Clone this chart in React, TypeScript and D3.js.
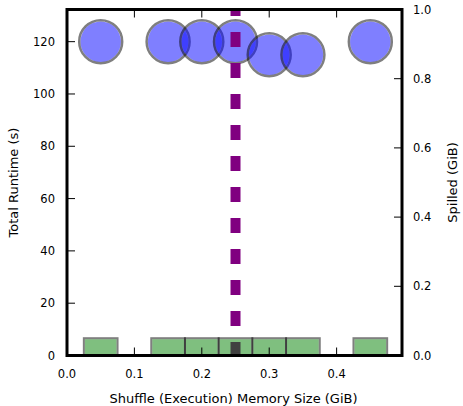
import React from "react";
import * as d3 from "d3";

const memSizes = [0.05, 0.15, 0.2, 0.25, 0.3, 0.35, 0.45];
const runtimes = [120, 120, 120, 120, 115, 115, 120];
const spilled = [0.05, 0.05, 0.05, 0.05, 0.05, 0.05, 0.05];
const barWidth = 0.05;
const markerX = 0.25;
const xTicks = [0.0, 0.1, 0.2, 0.3, 0.4];
const yLeftTicks = [0, 20, 40, 60, 80, 100, 120];
const yRightTicks = [0.0, 0.2, 0.4, 0.6, 0.8, 1.0];

const W = 463;
const H = 406;
const L = 67;
const R = 402;
const T = 9.5;
const B = 355.5;
const FONT = "DejaVu Sans";

export default function App() {
  const x = d3.scaleLinear().domain([0, 0.497]).range([L, R]);
  const yL = d3.scaleLinear().domain([0, 132.3]).range([B, T]);
  const yR = d3.scaleLinear().domain([0, 1]).range([B, T]);
  const tickLen = 8;
  const fs = 11.5;
  const lfs = 13;
  const r = 21.5;
  const sw = 2.5;

  return (
    <svg width={W} height={H} style={{ position: "absolute", left: 0, top: 0 }}>
      <defs>
        <clipPath id="plot">
          <rect x={L} y={T} width={R - L} height={B - T} />
        </clipPath>
      </defs>
      <rect width={W} height={H} fill="white" />
      <g clipPath="url(#plot)">
        {memSizes.map((m, i) => (
          <g key={"c" + i}>
            <circle cx={x(m)} cy={yL(runtimes[i])} r={r - sw / 2} fill="rgba(0,0,255,0.5)" />
            <circle
              cx={x(m)}
              cy={yL(runtimes[i])}
              r={r}
              fill="none"
              stroke="rgba(0,0,0,0.5)"
              strokeWidth={sw}
            />
          </g>
        ))}
        <line
          x1={x(markerX)}
          x2={x(markerX)}
          y1={yL(0)}
          y2={yL(132.3)}
          stroke="#800080"
          strokeWidth={10}
          strokeDasharray="15 16"
          strokeDashoffset={1.5}
        />
        {memSizes.map((m, i) => {
          const x0 = x(m - barWidth / 2);
          const x1 = x(m + barWidth / 2);
          const y0 = yR(spilled[i]);
          const y1 = yR(0);
          return (
            <g key={"b" + i}>
              <rect
                x={x0 + 1}
                y={y0 + 1}
                width={x1 - x0 - 2}
                height={y1 - y0 - 1}
                fill="rgba(0,128,0,0.5)"
              />
              <rect
                x={x0}
                y={y0}
                width={x1 - x0}
                height={y1 - y0 + 2}
                fill="none"
                stroke="rgba(0,0,0,0.5)"
                strokeWidth={2}
              />
            </g>
          );
        })}
      </g>
      {xTicks.map((t) => (
        <g key={"xt" + t}>
          <line x1={x(t)} x2={x(t)} y1={B} y2={B - tickLen} stroke="black" strokeWidth={1} />
          <line x1={x(t)} x2={x(t)} y1={T} y2={T + tickLen} stroke="black" strokeWidth={1} />
          <text x={x(t)} y={377.5} fontFamily={FONT} fontSize={fs} textAnchor="middle">
            {t.toFixed(1)}
          </text>
        </g>
      ))}
      {yLeftTicks.map((t) => (
        <g key={"yl" + t}>
          <line x1={L} x2={L + tickLen} y1={yL(t)} y2={yL(t)} stroke="black" strokeWidth={1} />
          <text x={55} y={yL(t)} dy="0.36em" fontFamily={FONT} fontSize={fs} textAnchor="end">
            {t}
          </text>
        </g>
      ))}
      {yRightTicks.map((t) => (
        <g key={"yr" + t}>
          <line x1={R} x2={R - tickLen} y1={yR(t)} y2={yR(t)} stroke="black" strokeWidth={1} />
          <text x={413} y={yR(t)} dy="0.36em" fontFamily={FONT} fontSize={fs} textAnchor="start">
            {t.toFixed(1)}
          </text>
        </g>
      ))}
      <rect x={L} y={T} width={R - L} height={B - T} fill="none" stroke="black" strokeWidth={3} />
      <text x={(L + R) / 2 - 1} y={403} fontFamily={FONT} fontSize={lfs} textAnchor="middle">
        Shuffle (Execution) Memory Size (GiB)
      </text>
      <text
        transform={`translate(17.5, ${(T + B) / 2}) rotate(-90)`}
        fontFamily={FONT}
        fontSize={lfs}
        textAnchor="middle"
      >
        Total Runtime (s)
      </text>
      <text
        transform={`translate(456.5, ${(T + B) / 2}) rotate(-90)`}
        fontFamily={FONT}
        fontSize={lfs}
        textAnchor="middle"
      >
        Spilled (GiB)
      </text>
    </svg>
  );
}
